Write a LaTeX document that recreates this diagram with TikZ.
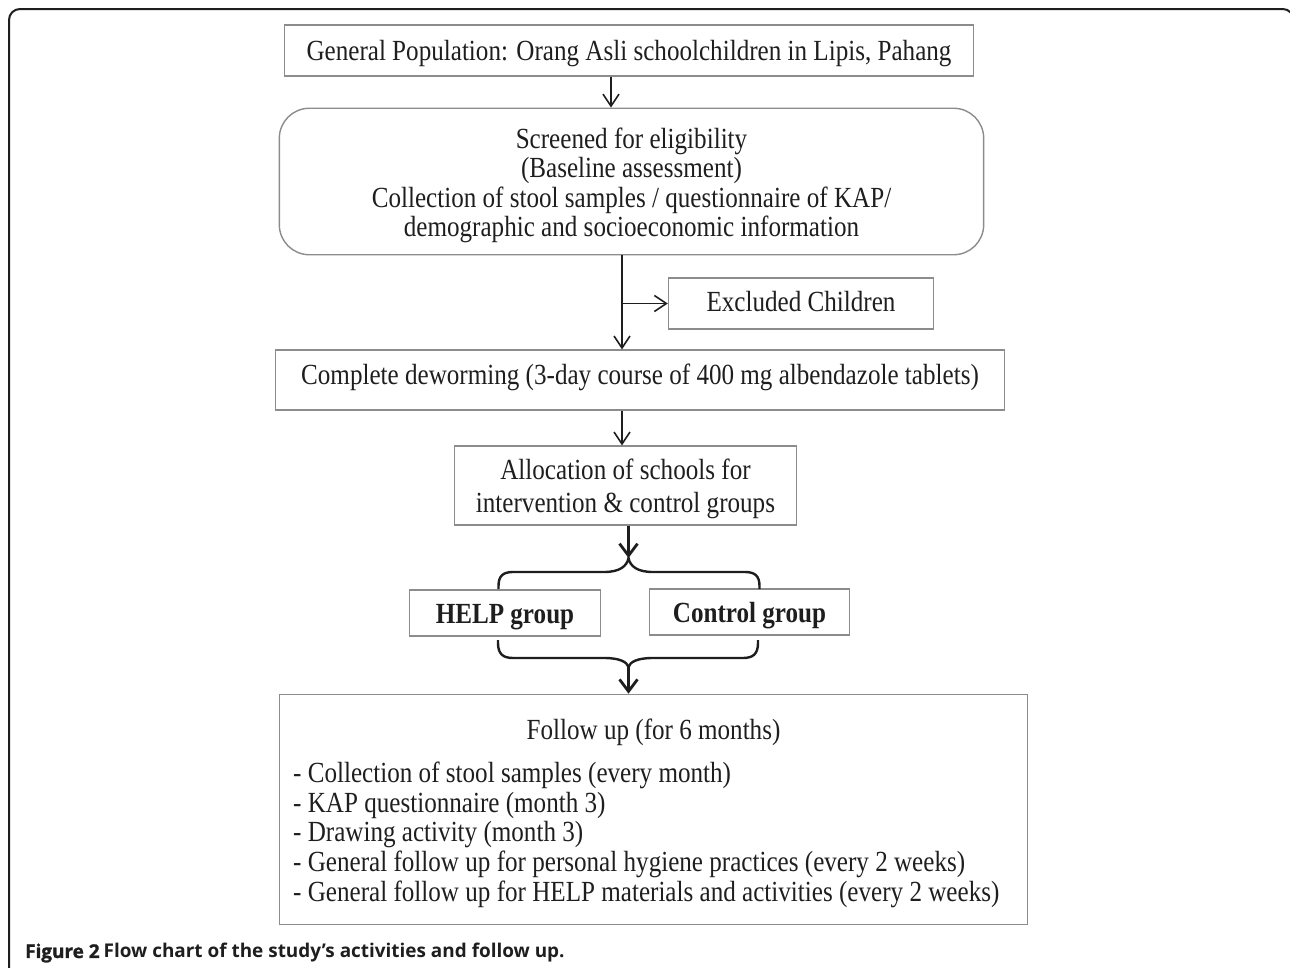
\documentclass[tikz,border=0pt]{standalone}
\usepackage{fontspec}
\setmainfont{Liberation Serif}[FakeStretch=0.86]
\newfontfamily\capfont{Open Sans}
\newfontfamily\capheavy{Open Sans}[BoldFeatures={FakeBold=1.2}]
\usetikzlibrary{arrows.meta}
\definecolor{boxgray}{HTML}{8C8C8C}
\definecolor{ink}{HTML}{1E1E1E}
\newcommand{\shifted}[2]{\raisebox{#1}[\height][\depth]{\begin{tabular}{@{}c@{}}#2\end{tabular}}}
\tikzset{
  box/.style={draw=boxgray, line width=1.4bp, inner sep=0pt, align=center, text=ink,
    font=\fontsize{29.3}{29.5}\selectfont},
  arr/.style={draw=ink, line width=1.6bp, -{Straight Barb[length=12bp,width=16bp,line width=1.6bp]}},
  thickarr/.style={draw=ink, line width=2.8bp, -{Straight Barb[length=12bp,width=18bp,line width=2.8bp]}},
  brace/.style={draw=ink, line width=2.4bp},
}
\begin{document}
\begin{tikzpicture}[x=1bp,y=-1bp]
\useasboundingbox (0,0) rectangle (1290,968);
% outer frame
\draw[draw=ink, line width=2bp] (9,975) -- (9,20) arc[start angle=180,end angle=270,radius=11] -- (1283,9) arc[start angle=270,end angle=320,radius=10];

\node[box, minimum width=692, minimum height=51] (b1) at (629,50.5) {\shifted{-4.5bp}{General Population: Orang Asli schoolchildren in Lipis, Pahang}};
\node[box, rounded corners=30bp, minimum width=707, minimum height=147] (b2) at (631.5,181.5)
  {\shifted{-5bp}{Screened for eligibility\\(Baseline assessment)\\Collection of stool samples / questionnaire of KAP/\\demographic and socioeconomic information}};
\node[box, minimum width=266, minimum height=51] (ex) at (801,303.5) {\shifted{-2bp}{Excluded Children}};
\node[box, minimum width=732, minimum height=60] (b3) at (640,380) {\shifted{1bp}{Complete deworming (3-day course of 400 mg albendazole tablets)}};
\node[box, minimum width=343, minimum height=79, font=\fontsize{29.3}{33}\selectfont] (b4) at (625.5,485.5)
  {\shifted{-4bp}{Allocation of schools for\\intervention \& control groups}};
\node[box, minimum width=192, minimum height=46, font=\fontsize{29.3}{29.5}\selectfont\bfseries] (help) at (505,613) {\shifted{-5bp}{HELP group}};
\node[box, minimum width=201, minimum height=46, font=\fontsize{29.3}{29.5}\selectfont\bfseries] (ctrl) at (749.5,612) {\shifted{-5bp}{Control group}};
\node[box, minimum width=751, minimum height=231] (b5) at (653.5,809.5) {};
\node[text=ink, font=\fontsize{29.3}{29.5}\selectfont, inner sep=0pt] (fut) at (653.5,732) {Follow up (for 6 months)};
\node[text=ink, font=\fontsize{29.3}{29.7}\selectfont, inner sep=0pt, align=left, anchor=north west] (ful) at (293,762)
  {- Collection of stool samples (every month)\\
   - KAP questionnaire (month 3)\\
   - Drawing activity (month 3)\\
   - General follow up for personal hygiene practices (every 2 weeks)\\
   - General follow up for HELP materials and activities (every 2 weeks)};

\node[anchor=west, inner sep=0pt, text=ink, font=\fontsize{19}{22}\selectfont] (cap) at (25,953)
  {{\capheavy\bfseries Figure 2} {\capfont\bfseries Flow chart of the study’s activities and follow up.}};

% connectors
\coordinate (cA) at (611,0);
\coordinate (cB) at (622,0);
\coordinate (cC) at (628.5,0);
\coordinate (topTip) at (628.5,558);
\coordinate (botTip) at (628.5,667);

\draw[arr] (b1.south -| cA) -- (b2.north -| cA);
\draw[arr] (b2.south -| cB) -- (b3.north -| cB);
\draw[arr] (ex.west -| cB) -- (ex.west);
\draw[arr] (b3.south -| cB) -- (b4.north -| cB);
\draw[thickarr] (b4.south -| cC) -- (topTip);
\draw[thickarr] (botTip) -- (b5.north -| cC);

% top brace
\draw[brace] (498.5,589) -- (498.5,586) .. controls (498.5,576) and (503,572) .. (513,572)
  -- (604,572) .. controls (620,572) and (627,566) .. (topTip)
  .. controls (630,566) and (637,572) .. (653,572) -- (745,572)
  .. controls (755,572) and (759.5,576) .. (759.5,586) -- (759.5,589);
% bottom brace
\draw[brace] (498,640) -- (498,643) .. controls (498,654) and (503,658) .. (513,658)
  -- (604,658) .. controls (620,658) and (627,662) .. (botTip)
  .. controls (630,662) and (637,658) .. (653,658) -- (743,658)
  .. controls (753,658) and (758,654) .. (758,643) -- (758,640);
\end{tikzpicture}
\end{document}
